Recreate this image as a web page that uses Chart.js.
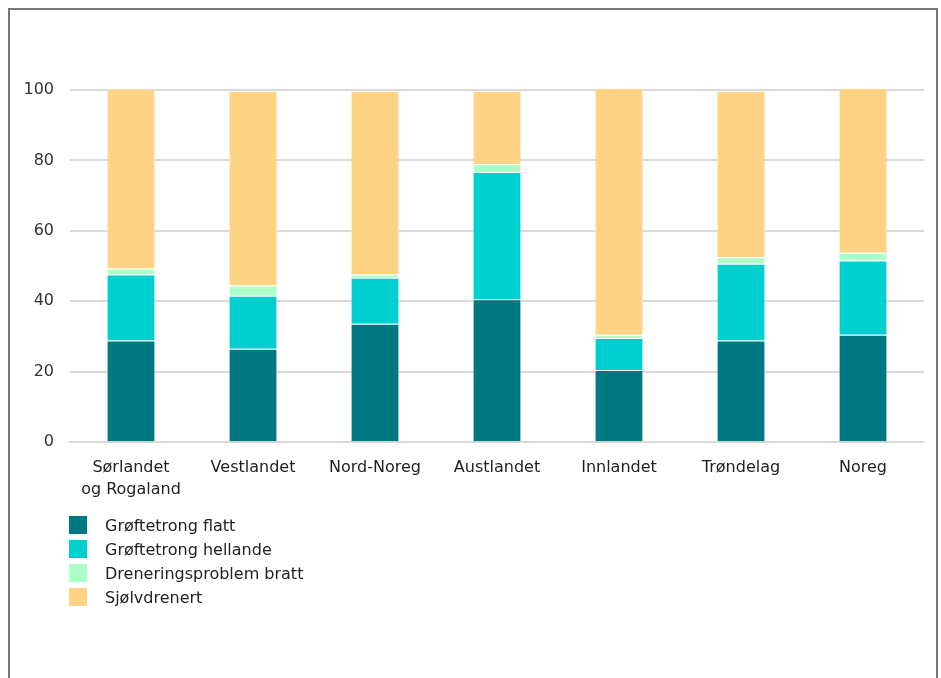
<!DOCTYPE html>
<html>
<head>
<meta charset="utf-8">
<script src="https://cdn.jsdelivr.net/npm/chart.js@4"></script>
<style>
  body { margin: 0; background: #fff; font-family: "DejaVu Sans", sans-serif; }
  #frame { position: absolute; left: 8px; top: 8px; width: 926px; height: 700px; border: 2px solid #777; border-bottom: none; }
  #wrap { position: absolute; left: 0; top: 0; width: 941px; height: 521px; }
  #legend { position: absolute; left: 69px; top: 513px; font-size: 16px; color: #222; }
  #legend div { height: 24px; display: flex; align-items: center; }
  #legend span.box { width: 18px; height: 18px; margin-right: 18px; display: inline-block; }
</style>
</head>
<body>
<div id="frame"></div>
<div id="wrap"><canvas id="myChart"></canvas></div>
<div id="legend"></div>
<script>
const ctx = document.getElementById('myChart');

// Regions along the x axis
const regions = [['Sørlandet', 'og Rogaland'], 'Vestlandet', 'Nord-Noreg', 'Austlandet', 'Innlandet', 'Trøndelag', 'Noreg'];

// Shares in percent
const flatt     = [28.9, 26.5, 33.6, 40.6, 20.5, 28.9, 30.5];
const hellande  = [18.7, 15.1, 13.1, 36.1,  9.1, 21.8, 21.1];
const bratt     = [ 1.7,  2.9,  0.9,  2.3,  0.9,  1.8,  2.2];
const sjolv     = [51.1, 55.2, 52.1, 20.7, 70.1, 47.2, 46.8];

const seriesNames = ['Grøftetrong flatt', 'Grøftetrong hellande', 'Dreneringsproblem bratt', 'Sjølvdrenert'];
const seriesColors = ['#007882', '#00CFD0', '#ADFFC8', '#FFD384'];

const yTicks = [0, 20, 40, 60, 80, 100];

const font = { family: '"DejaVu Sans", sans-serif', size: 16, lineHeight: 1.4 };

const chart = new Chart(ctx, {
  type: 'bar',
  data: {
    labels: regions,
    datasets: [flatt, hellande, bratt, sjolv].map((d, i) => ({
      label: seriesNames[i],
      data: d,
      backgroundColor: seriesColors[i],
      borderColor: 'rgba(255,255,255,0.5)',
      borderWidth: 1,
      categoryPercentage: 1,
      barPercentage: 0.4,
      clip: false
    }))
  },
  options: {
    animation: false,
    responsive: true,
    maintainAspectRatio: false,
    layout: { padding: { top: 90, right: 17, bottom: 6, left: 0 } },
    plugins: { legend: { display: false }, tooltip: { enabled: false } },
    scales: {
      x: {
        stacked: true,
        grid: { display: false, drawTicks: false },
        border: { color: '#d9d9d9', width: 2 },
        ticks: { color: '#222', font: font, padding: 14, maxRotation: 0, autoSkip: false }
      },
      y: {
        stacked: true,
        min: 0,
        max: 100,
        afterBuildTicks: s => { s.ticks = yTicks.map(v => ({ value: v })); },
        afterFit: s => { s.width = 70; },
        grid: { color: '#d9d9d9', lineWidth: 2, drawTicks: false },
        border: { display: false },
        ticks: { color: '#333', font: { family: font.family, size: 16 }, padding: 16 }
      }
    }
  }
});

// Vertical legend built from the datasets
const legend = document.getElementById('legend');
chart.data.datasets.forEach(ds => {
  const row = document.createElement('div');
  const box = document.createElement('span');
  box.className = 'box';
  box.style.background = ds.backgroundColor;
  row.appendChild(box);
  row.appendChild(document.createTextNode(ds.label));
  legend.appendChild(row);
});
</script>
</body>
</html>
